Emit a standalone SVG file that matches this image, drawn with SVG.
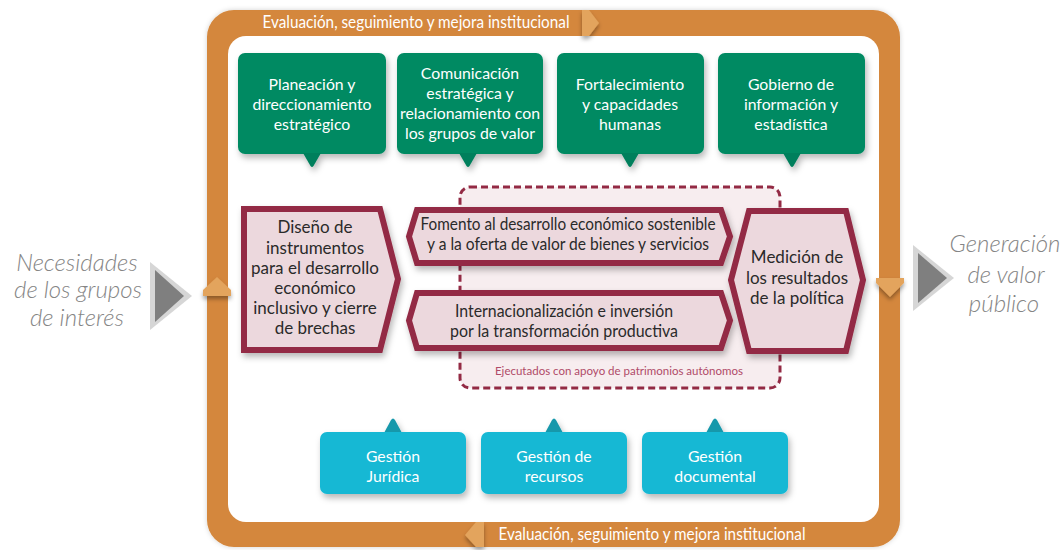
<svg xmlns="http://www.w3.org/2000/svg" width="1063" height="550" viewBox="0 0 1063 550">
<defs>
<style>
.t{font-family:Lato,"Open Sans","Liberation Sans",sans-serif;text-anchor:middle}
.w{fill:#ffffff;font-size:15.8px}
.band{fill:#ffffff;font-size:16.5px}
.pk{fill:#2a2a2a;font-size:17px}
.pk2{fill:#2a2a2a;font-size:16.5px}
.side{fill:#858585;font-size:24px;font-style:italic;font-weight:300}
.green{fill:#028a62}
.gptr{fill:#047f5b}
.cyan{fill:#16b8d4}
.cptr{fill:#1798ab}
.mar{fill:#ecd8dd;stroke:#932a44;stroke-width:6;stroke-linejoin:miter}
.chev{fill:#e3a45d}
</style>
<filter id="sh" x="-10%" y="-10%" width="125%" height="135%">
<feDropShadow dx="2" dy="4" stdDeviation="3" flood-color="#000" flood-opacity="0.28"/>
</filter>
<filter id="fs" x="-5%" y="-5%" width="110%" height="110%">
<feDropShadow dx="0" dy="0" stdDeviation="2.5" flood-color="#000" flood-opacity="0.18"/>
</filter>
<filter id="cs" x="-30%" y="-30%" width="160%" height="180%">
<feDropShadow dx="0" dy="3" stdDeviation="2" flood-color="#000" flood-opacity="0.35"/>
</filter>
</defs>
<rect width="1063" height="550" fill="#ffffff"/>

<!-- frame -->
<g id="frame">
<rect x="207" y="10" width="693" height="537" rx="27" fill="#d4873c" filter="url(#fs)"/>
<rect x="228" y="36" width="651" height="486" rx="18" fill="#ffffff"/>
<text class="t band" x="416" y="28" textLength="307" lengthAdjust="spacingAndGlyphs">Evaluación, seguimiento y mejora institucional</text>
<text class="t band" x="652" y="540" textLength="307" lengthAdjust="spacingAndGlyphs">Evaluación, seguimiento y mejora institucional</text>
</g>

<!-- connectors / flow markers -->
<g id="connectors">
<polygon class="chev" points="582,10 589,10 599,23 589,36 582,36" filter="url(#cs)"/>
<polygon class="chev" points="484,522 476,522 465,535 476,547 484,547" filter="url(#cs)"/>
<polygon class="chev" points="203,290 217,277 231,290 231,296 203,296" filter="url(#cs)"/>
<polygon class="chev" points="876,278 904,278 904,283 890,297 876,283" filter="url(#cs)"/>
<polygon points="150,262 192,296 150,330" fill="#d6d6d6"/>
<polygon points="155,270 184,296 155,322" fill="#7f7f7f"/>
<polygon points="913,245 954,278 913,311" fill="#d6d6d6"/>
<polygon points="918,253 947,278 918,303" fill="#7f7f7f"/>
</g>

<g id="side-left">
<text class="t side" x="77" y="271">Necesidades</text>
<text class="t side" x="78" y="298">de los grupos</text>
<text class="t side" x="77" y="326">de interés</text>
</g>
<g id="side-right">
<text class="t side" x="1005" y="252">Generación</text>
<text class="t side" x="1006" y="283">de valor</text>
<text class="t side" x="1004" y="312">público</text>
</g>

<!-- green strategic nodes -->
<g id="n-planeacion">
<g filter="url(#sh)">
<rect class="green" x="238" y="53" width="148" height="101" rx="7"/>
<path class="gptr" d="M303,153 L321,153 L313.5,166 Q312,168 310.5,166 Z"/>
</g>
<text class="t w" x="312" y="90">Planeación y</text>
<text class="t w" x="312" y="110">direccionamiento</text>
<text class="t w" x="312" y="130">estratégico</text>
</g>
<g id="n-comunicacion">
<g filter="url(#sh)">
<rect class="green" x="397" y="53" width="146" height="101" rx="7"/>
<path class="gptr" d="M459,153 L477,153 L469.5,166 Q468,168 466.5,166 Z"/>
</g>
<text class="t w" x="470" y="79">Comunicación</text>
<text class="t w" x="470" y="99">estratégica y</text>
<text class="t w" x="470" y="119">relacionamiento con</text>
<text class="t w" x="470" y="139">los grupos de valor</text>
</g>
<g id="n-fortalecimiento">
<g filter="url(#sh)">
<rect class="green" x="557" y="53" width="147" height="101" rx="7"/>
<path class="gptr" d="M621,153 L639,153 L631.5,166 Q630,168 628.5,166 Z"/>
</g>
<text class="t w" x="630" y="90">Fortalecimiento</text>
<text class="t w" x="630" y="110">y capacidades</text>
<text class="t w" x="630" y="130">humanas</text>
</g>
<g id="n-gobierno">
<g filter="url(#sh)">
<rect class="green" x="718" y="53" width="147" height="101" rx="7"/>
<path class="gptr" d="M783,153 L801,153 L793.5,166 Q792,168 790.5,166 Z"/>
</g>
<text class="t w" x="791" y="90">Gobierno de</text>
<text class="t w" x="791" y="110">información y</text>
<text class="t w" x="791" y="130">estadística</text>
</g>

<!-- dashed group: patrimonios autónomos -->
<g id="n-patrimonios">
<rect x="460" y="187" width="320" height="201" rx="10" fill="#f7edef" stroke="#932a44" stroke-width="3" stroke-dasharray="7 4"/>
<text class="t" x="619" y="375" fill="#b04b68" font-size="12px" textLength="248" lengthAdjust="spacingAndGlyphs">Ejecutados con apoyo de patrimonios autónomos</text>
</g>

<!-- maroon process nodes -->
<g id="n-diseno">
<polygon class="mar" points="244,209 380,209 398,279 380,350 244,350" filter="url(#sh)"/>
<text class="t pk" x="315" y="233">Diseño de</text>
<text class="t pk" x="315" y="254">instrumentos</text>
<text class="t pk" x="315" y="274">para el desarrollo</text>
<text class="t pk" x="315" y="294">económico</text>
<text class="t pk" x="315" y="314">inclusivo y cierre</text>
<text class="t pk" x="315" y="334">de brechas</text>
</g>
<g id="n-fomento">
<polygon class="mar" points="417,210 721,210 730,236.5 721,263 417,263 409,236.5" filter="url(#sh)"/>
<text class="t pk2" x="568" y="230" textLength="295" lengthAdjust="spacingAndGlyphs">Fomento al desarrollo económico sostenible</text>
<text class="t pk2" x="568" y="250" textLength="282" lengthAdjust="spacingAndGlyphs">y a la oferta de valor de bienes y servicios</text>
</g>
<g id="n-internacionalizacion">
<polygon class="mar" points="417,293 721,293 730,320.5 721,348 417,348 409,320.5" filter="url(#sh)"/>
<text class="t pk2" x="564" y="317" textLength="218" lengthAdjust="spacingAndGlyphs">Internacionalización e inversión</text>
<text class="t pk2" x="564" y="337" textLength="228" lengthAdjust="spacingAndGlyphs">por la transformación productiva</text>
</g>
<g id="n-medicion">
<polygon class="mar" points="749,211 846,211 863,280 846,351 749,351 731,280" filter="url(#sh)"/>
<text class="t pk" x="797" y="263">Medición de</text>
<text class="t pk" x="797" y="284">los resultados</text>
<text class="t pk" x="797" y="304">de la política</text>
</g>

<!-- cyan support nodes -->
<g id="n-juridica">
<g filter="url(#sh)">
<path class="cptr" d="M384,433 L402,433 L395,420 Q393,417 391,420 Z"/>
<rect class="cyan" x="320" y="432" width="146" height="62" rx="7"/>
</g>
<text class="t w" x="393" y="462">Gestión</text>
<text class="t w" x="393" y="482">Jurídica</text>
</g>
<g id="n-recursos">
<g filter="url(#sh)">
<path class="cptr" d="M545,433 L563,433 L556,420 Q554,417 552,420 Z"/>
<rect class="cyan" x="481" y="432" width="146" height="62" rx="7"/>
</g>
<text class="t w" x="554" y="462">Gestión de</text>
<text class="t w" x="554" y="482">recursos</text>
</g>
<g id="n-documental">
<g filter="url(#sh)">
<path class="cptr" d="M706,433 L724,433 L717,420 Q715,417 713,420 Z"/>
<rect class="cyan" x="642" y="432" width="146" height="62" rx="7"/>
</g>
<text class="t w" x="715" y="462">Gestión</text>
<text class="t w" x="715" y="482">documental</text>
</g>
</svg>
